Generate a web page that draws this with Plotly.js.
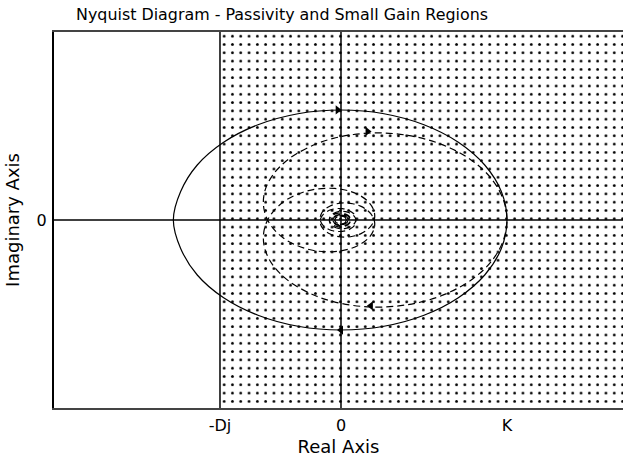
<!DOCTYPE html>
<html><head><meta charset="utf-8">
<script src="https://cdn.plot.ly/plotly-3.0.1.min.js"></script>
<style>html,body{margin:0;padding:0;background:#fff}#c{width:623px;height:462px}</style>
</head><body><div id="c"></div>
<script>
// Axis marks (real axis in units where K = 1, imaginary axis in units where the solid curve peaks at 1)
const tickVals = [-0.729, 0, 1.0];
const tickText = ['-Dj', '0', 'K'];
const DJ = -0.729;
const xRange = [-1.729, 1.699];
const yRange = [-1.709, 1.709];

// Solid Nyquist curve
const solidRe = [1.00, 0.966, 0.866, 0.707, 0.50, 0.259, 0.00, -0.259, -0.50, -0.707, -0.866, -0.966, -1.01, -0.966, -0.866, -0.707, -0.50, -0.259, 0.00, 0.259, 0.50, 0.707, 0.866, 0.966, 1.00];
const solidIm = [0.00, -0.259, -0.50, -0.707, -0.866, -0.966, -1.00, -0.966, -0.866, -0.707, -0.50, -0.259, 0.00, 0.259, 0.50, 0.707, 0.866, 0.966, 1.00, 0.966, 0.866, 0.707, 0.50, 0.259, 0.00];

// Dashed Nyquist curve, positive-frequency branch
const dashRe = [1.000, 0.975, 0.904, 0.795, 0.660, 0.510, 0.358, 0.211, 0.075, -0.046, -0.150, -0.310, -0.409, -0.458, -0.467, -0.447, -0.405, -0.349, -0.285, -0.213, -0.141, -0.039, 0.050, 0.121, 0.170, 0.197, 0.203, 0.189, 0.159, 0.118, 0.071, 0.022, -0.025, -0.065, -0.096, -0.117, -0.125, -0.122, -0.108, -0.085, -0.057, -0.024, 0.007, 0.037, 0.061, 0.079, 0.088, 0.090, 0.083, 0.069, 0.050, 0.028, 0.004, -0.020, -0.040, -0.056, -0.066, -0.070, -0.068, -0.060, -0.047, -0.017, 0.014, 0.040, 0.055, 0.056, 0.044, 0.021, -0.005, -0.029, -0.044, -0.049, -0.041, -0.002, 0.036, 0.038, 0.007, -0.028, -0.036, -0.011, 0.022, 0.033];
const dashIm = [0.000, -0.197, -0.380, -0.534, -0.653, -0.735, -0.779, -0.792, -0.777, -0.742, -0.691, -0.560, -0.413, -0.267, -0.134, -0.015, 0.083, 0.162, 0.219, 0.260, 0.283, 0.287, 0.263, 0.217, 0.157, 0.091, 0.024, -0.037, -0.088, -0.126, -0.148, -0.155, -0.148, -0.128, -0.098, -0.062, -0.023, 0.015, 0.049, 0.076, 0.095, 0.104, 0.103, 0.094, 0.076, 0.053, 0.026, -0.001, -0.027, -0.049, -0.066, -0.076, -0.079, -0.075, -0.064, -0.048, -0.029, -0.008, 0.013, 0.032, 0.047, 0.062, 0.061, 0.045, 0.020, -0.009, -0.034, -0.050, -0.052, -0.042, -0.023, 0.002, 0.024, 0.045, 0.025, -0.016, -0.039, -0.026, 0.010, 0.034, 0.027, -0.004];

// Negative-frequency branch is the mirror image of the positive one
const fullRe = dashRe.slice().reverse().concat(dashRe.slice(1));
const fullIm = dashIm.slice().reverse().map(v => -v).concat(dashIm.slice(1));

// Arrow positions and directions
const arrowRe = [-0.02, 0.0, 0.16, 0.18];
const arrowIm = [1.00, -1.00, 0.805, -0.78];
const arrowSym = ['triangle-right', 'triangle-left', 'triangle-right', 'triangle-left'];

const traces = [
  { // dotted passivity region
    x: [DJ, xRange[1] + 0.1, xRange[1] + 0.1, DJ, DJ],
    y: [yRange[0] - 0.1, yRange[0] - 0.1, yRange[1] + 0.1, yRange[1] + 0.1, yRange[0] - 0.1],
    mode: 'lines', fill: 'toself', fillcolor: 'rgba(0,0,0,0)',
    fillpattern: {shape: '.', size: 8.3, solidity: 0.09, fgcolor: '#000', bgcolor: '#fff', fillmode: 'replace'},
    line: {width: 0}, hoverinfo: 'skip', showlegend: false
  },
  {x: solidRe, y: solidIm, mode: 'lines', line: {color: '#000', width: 1.2, shape: 'spline'}, showlegend: false},
  {x: fullRe, y: fullIm, mode: 'lines', line: {color: '#000', width: 1.2, dash: '7px,4px', shape: 'spline'}, showlegend: false},
  {x: arrowRe, y: arrowIm, mode: 'markers', marker: {symbol: arrowSym, size: 8, color: '#000'}, showlegend: false}
];

const layout = {
  width: 623, height: 462,
  margin: {l: 54, r: 0, t: 32, b: 54},
  paper_bgcolor: '#fff', plot_bgcolor: '#fff',
  font: {family: 'DejaVu Sans, Verdana, sans-serif', color: '#000', size: 16},
  title: {text: 'Nyquist Diagram - Passivity and Small Gain Regions', font: {size: 15.9}, x: 282/623, xanchor: 'center', y: 0.969, yanchor: 'middle'},
  xaxis: {
    range: xRange, tickvals: tickVals, ticktext: tickText, ticks: '', showgrid: false,
    zeroline: false, ticklabelstandoff: 2,
    showline: true, linecolor: '#444', linewidth: 2, mirror: true,
    title: {text: 'Real Axis', font: {size: 18}, standoff: 6}, tickfont: {size: 16}
  },
  yaxis: {
    range: yRange, tickvals: [0], ticktext: ['0'], ticks: '', showgrid: false,
    zeroline: false, ticklabelstandoff: 2,
    showline: true, linecolor: '#000', linewidth: 2, mirror: false,
    title: {text: 'Imaginary Axis', font: {size: 18}, standoff: 12}, tickfont: {size: 16}
  },
  shapes: [
    {type: 'line', layer: 'above', xref: 'x', yref: 'paper', x0: DJ, x1: DJ, y0: 0, y1: 1, line: {color: '#000', width: 1.5}},
    {type: 'line', layer: 'above', xref: 'x', yref: 'paper', x0: 0, x1: 0, y0: 0, y1: 1, line: {color: '#000', width: 1.5}},
    {type: 'line', layer: 'above', xref: 'paper', yref: 'y', x0: 0, x1: 1, y0: 0, y1: 0, line: {color: '#000', width: 1.5}}
  ]
};
Plotly.newPlot('c', traces, layout, {displayModeBar: false, staticPlot: true});
</script></body></html>
